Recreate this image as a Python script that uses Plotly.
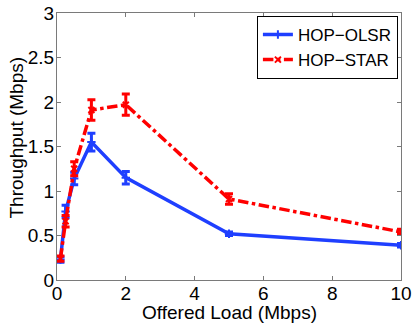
import plotly.graph_objects as go

# offered load (Mbps)
load = [0.1, 0.25, 0.5, 1, 2, 5, 10]

# throughput (Mbps) and error bar half-widths
olsr = [0.23, 0.77, 1.14, 1.55, 1.15, 0.52, 0.39]
olsr_err = [0.03, 0.07, 0.07, 0.1, 0.07, 0.02, 0.02]
star = [0.24, 0.66, 1.25, 1.91, 1.97, 0.91, 0.54]
star_err = [0.03, 0.065, 0.08, 0.115, 0.12, 0.06, 0.03]

fig = go.Figure()
fig.add_trace(go.Scatter(x=load, y=olsr, name='HOP\u2212OLSR', mode='lines+markers',
                         line=dict(color='#1f3fff', width=3.5),
                         marker=dict(symbol='cross-thin', size=6, line=dict(color='#1f3fff', width=2)),
                         error_y=dict(type='data', array=olsr_err, color='#1f3fff', thickness=3, width=4)))
fig.add_trace(go.Scatter(x=load, y=star, name='HOP\u2212STAR', mode='lines+markers',
                         line=dict(color='#ff0000', width=3.5, dash='dashdot'),
                         marker=dict(symbol='x-thin', size=6, line=dict(color='#ff0000', width=2)),
                         error_y=dict(type='data', array=star_err, color='#ff0000', thickness=3, width=4)))

ax = dict(showline=True, mirror='allticks', linecolor='#7a7a7a', linewidth=1,
          ticks='inside', ticklen=4, tickcolor='#7a7a7a', showgrid=False, zeroline=False,
          tickfont=dict(size=19, color='black'), automargin=False, ticklabeloverflow='allow')
fig.update_xaxes(range=[0, 10], dtick=2, ticklabelstandoff=-4, **ax)
fig.update_yaxes(range=[0, 3], dtick=0.5, ticklabelstandoff=-2, **ax)

# axis titles as annotations so they keep their place outside the plot
fig.add_annotation(text='Offered Load (Mbps)', xref='paper', yref='paper', x=0.5, y=0,
                   xanchor='center', yanchor='top', yshift=-20, showarrow=False,
                   font=dict(size=19))
fig.add_annotation(text='Throughput (Mbps)', xref='paper', yref='paper', x=0, y=0.5,
                   xanchor='center', yanchor='middle', xshift=-41, yshift=9, textangle=-90,
                   showarrow=False, font=dict(size=19))

fig.update_layout(width=415, height=323, margin=dict(l=57, r=14, t=13, b=43),
                  plot_bgcolor='white', paper_bgcolor='white',
                  font=dict(family='Liberation Sans, Arial, sans-serif', color='black'),
                  legend=dict(x=0.991, y=0.989, xanchor='right', yanchor='top', bgcolor='white',
                              bordercolor='black', borderwidth=1, font=dict(size=17),
                              itemwidth=30, tracegroupgap=0))
# drop the default page margin so the figure sits at the window corner
fig.write_html("out.html", config={'displayModeBar': False},
               post_script="document.body.style.margin='0';")
